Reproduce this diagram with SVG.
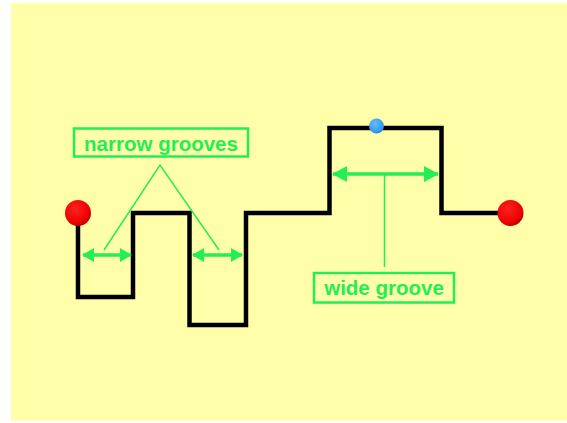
<svg xmlns="http://www.w3.org/2000/svg" width="567" height="423" viewBox="0 0 567 423">
<defs>
<radialGradient id="red" cx="0.4" cy="0.35" r="0.7">
<stop offset="0" stop-color="#ff2020"/>
<stop offset="0.75" stop-color="#ee0000"/>
<stop offset="1" stop-color="#aa0000"/>
</radialGradient>
<radialGradient id="blue" cx="0.4" cy="0.35" r="0.7">
<stop offset="0" stop-color="#66bbff"/>
<stop offset="0.8" stop-color="#3399ee"/>
<stop offset="1" stop-color="#2277cc"/>
</radialGradient>
<marker id="ah" viewBox="0 0 12 14" refX="11" refY="7" markerWidth="12" markerHeight="14" markerUnits="userSpaceOnUse" orient="auto-start-reverse">
<path d="M0,0 L12,7 L0,14 Z" fill="#22ee55"/>
</marker>
<marker id="ahw" viewBox="0 0 15 16" refX="14" refY="8" markerWidth="15" markerHeight="16" markerUnits="userSpaceOnUse" orient="auto-start-reverse">
<path d="M0,0 L15,8 L0,16 Z" fill="#22ee55"/>
</marker>
</defs>
<style>
.lbl{font-family:"Liberation Sans",Arial,sans-serif;font-weight:bold;font-size:20.5px;fill:#22ee55;text-anchor:middle}
.box{fill:none;stroke:#22ee55;stroke-width:2.5}
.thin{stroke:#22ee55;stroke-width:1.5;fill:none}
.arr{stroke:#22ee55;stroke-width:3.5;fill:none}
.track{fill:none;stroke:#000;stroke-width:4.5;stroke-linejoin:miter}
</style>
<rect x="11" y="3" width="556" height="418" fill="#ffffaa"/>
<g id="track">
<path class="track" d="M78,213 V297 H133 V213 H189.5 V325 H246 V213 H329.5 V128 H441.5 V213 H510"/>
</g>
<g id="start-ball"><circle cx="78" cy="213" r="13" fill="url(#red)"/></g>
<g id="end-ball"><circle cx="510.5" cy="213" r="13" fill="url(#red)"/></g>
<g id="blue-ball"><circle cx="376.5" cy="126" r="7.5" fill="url(#blue)"/></g>
<g id="connectors">
<line class="arr" x1="83" y1="255" x2="131" y2="255" marker-start="url(#ah)" marker-end="url(#ah)"/>
<line class="arr" x1="193" y1="255" x2="242" y2="255" marker-start="url(#ah)" marker-end="url(#ah)"/>
<line class="arr" x1="333" y1="174" x2="438" y2="174" marker-start="url(#ahw)" marker-end="url(#ahw)"/>
<polyline class="thin" points="104,250 160,165 219,250"/>
<line class="thin" x1="384.5" y1="175" x2="384.5" y2="267"/>
</g>
<g id="narrow-label">
<rect class="box" x="74" y="128.5" width="174" height="28"/>
<text class="lbl" x="161" y="151">narrow grooves</text>
</g>
<g id="wide-label">
<rect class="box" x="314" y="273" width="140" height="29.5"/>
<text class="lbl" x="384" y="295">wide groove</text>
</g>
</svg>
